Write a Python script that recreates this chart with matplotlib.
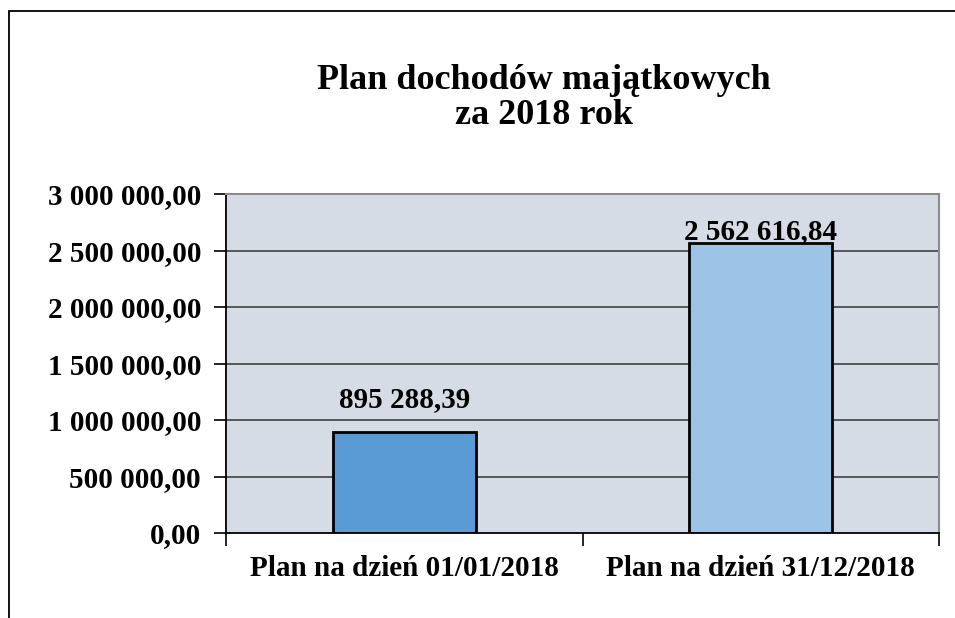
import matplotlib
matplotlib.use("Agg")
import matplotlib.pyplot as plt
from matplotlib.patches import Rectangle

categories = ["Plan na dzień 01/01/2018", "Plan na dzień 31/12/2018"]
values = [895288.39, 2562616.84]
value_labels = ["895 288,39", "2 562 616,84"]
yticks = [0, 500000, 1000000, 1500000, 2000000, 2500000, 3000000]
ytick_labels = ["0,00", "500 000,00", "1 000 000,00", "1 500 000,00",
                "2 000 000,00", "2 500 000,00", "3 000 000,00"]
colors = ["#5B9BD5", "#9DC3E6"]
label_offsets = [18, 3]  # pt above bar top (second label pushed down by plot top)

plt.rcParams['font.family'] = ['Liberation Serif', 'DejaVu Serif']
plt.rcParams['font.weight'] = 'bold'

fig = plt.figure(figsize=(9.55, 6.18), dpi=100)
fig.patches.append(Rectangle((9/955, -0.1), 1.2, 1.1 - 11/618, transform=fig.transFigure,
                             fill=False, edgecolor='black', linewidth=1.3))

ax = fig.add_axes([226/955, 85/618, 713/955, 339/618])
ax.set_facecolor("#D6DCE5")
ax.set_xlim(-0.5, 1.5)
ax.set_ylim(0, 3000000)

ax.set_yticks(yticks)
ax.set_yticklabels(ytick_labels, fontsize=21, fontweight='bold')
for y in yticks[1:-1]:
    ax.axhline(y, color='#333333', linewidth=1.1, zorder=1)

x = range(len(categories))
ax.bar(x, values, width=0.4, color=colors, edgecolor='black', linewidth=2, zorder=2)
for i, (v, lab, off) in enumerate(zip(values, value_labels, label_offsets)):
    ax.annotate(lab, (i, v), xytext=(0, off), textcoords='offset points',
                ha='center', va='baseline', fontsize=21, fontweight='bold', zorder=3)

ax.set_xticks(list(x))
ax.set_xticklabels(categories, fontsize=21, fontweight='bold')
ax.set_xticks([-0.5, 0.5, 1.5], minor=True)
ax.tick_params(axis='x', which='major', length=0, pad=16)
ax.tick_params(axis='x', which='minor', length=9, width=1.2, direction='out')
ax.tick_params(axis='y', length=9, width=1.2, direction='out', pad=9)

for s in ['top', 'right']:
    ax.spines[s].set_color('#8C8C8C')
    ax.spines[s].set_linewidth(1.5)
for s in ['left', 'bottom']:
    ax.spines[s].set_color('black')
    ax.spines[s].set_linewidth(1.3)

fig.text(544/955, 1 - 89/618, "Plan dochodów majątkowych", ha='center', va='baseline',
         fontsize=26, fontweight='bold')
fig.text(544/955, 1 - 124/618, "za 2018 rok", ha='center', va='baseline',
         fontsize=26, fontweight='bold')

fig.savefig("out.png", dpi=100)
